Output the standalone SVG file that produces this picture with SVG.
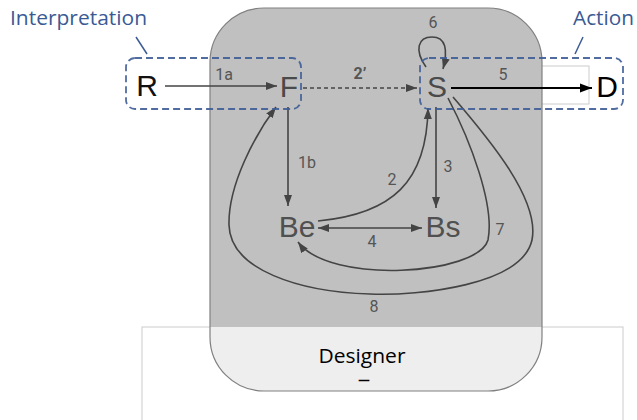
<svg xmlns="http://www.w3.org/2000/svg" width="637" height="420" viewBox="0 0 637 420">
<defs>
<style>
.node{font-family:"Liberation Sans",Arial,sans-serif;font-size:30px;text-anchor:middle}
.lbl{font-family:Roboto,"Liberation Sans",sans-serif;font-size:16px;fill:#555;text-anchor:middle}
.cap{font-family:"Open Sans","Liberation Sans",sans-serif;font-size:20px}
.con{fill:none;stroke:#444;stroke-width:1.6}
.dbox{fill:none;stroke:#3d5c96;stroke-width:1.8;stroke-dasharray:7,4;opacity:0.9}
</style>
<marker id="ah" markerUnits="userSpaceOnUse" markerWidth="12" markerHeight="10" refX="11" refY="4" orient="auto-start-reverse" viewBox="0 0 12 8">
<path d="M0,0 L11,4 L0,8 Z" fill="#444"/>
</marker>
<marker id="ahk" markerUnits="userSpaceOnUse" markerWidth="13" markerHeight="10" refX="12" refY="4.5" orient="auto" viewBox="0 0 13 9">
<path d="M0,0 L12,4.5 L0,9 Z" fill="#000"/>
</marker>
<clipPath id="clipBig"><rect x="210" y="8" width="332" height="383" rx="54" ry="54"/></clipPath>
</defs>
<rect width="637" height="420" fill="#fff"/>
<g id="background-frames">
<rect x="142" y="327" width="481" height="110" fill="none" stroke="#cccccc" stroke-width="1"/>
<rect x="500" y="66" width="89" height="38" fill="none" stroke="#cccccc" stroke-width="1"/>
</g>
<g id="designer">
<rect x="210" y="8" width="332" height="383" rx="54" ry="54" fill="#eeeeee"/>
<rect x="210" y="8" width="332" height="319" fill="#c0c0c0" clip-path="url(#clipBig)"/>
<rect x="210" y="8" width="332" height="383" rx="54" ry="54" fill="none" stroke="#808080" stroke-width="1.2"/>
<text x="362" y="363" class="cap" text-anchor="middle" fill="#000" textLength="87" lengthAdjust="spacingAndGlyphs">Designer</text>
<text x="358" y="385" font-family="'Liberation Sans',sans-serif" font-size="14" font-weight="bold" fill="#000" textLength="12" lengthAdjust="spacingAndGlyphs">–</text>
</g>
<g id="connectors">
<line x1="165" y1="86" x2="277" y2="86" class="con" marker-end="url(#ah)"/>
<text x="224" y="80" class="lbl">1a</text>
<line x1="303" y1="88" x2="417" y2="88" class="con" stroke-dasharray="4,3" marker-end="url(#ah)"/>
<text x="360" y="79" class="lbl" font-weight="bold" fill="#444">2’</text>
<line x1="451" y1="88" x2="592" y2="88" fill="none" stroke="#000" stroke-width="2" marker-end="url(#ahk)"/>
<text x="503" y="80" class="lbl">5</text>
<path d="M426,67 C414,50 418,37 432,37 C446,37 448,50 443,69" class="con" marker-end="url(#ah)"/>
<text x="433" y="28" class="lbl">6</text>
<line x1="288" y1="107" x2="288" y2="206" class="con" marker-end="url(#ah)"/>
<text x="307" y="168" class="lbl">1b</text>
<line x1="436" y1="107" x2="436" y2="208" class="con" marker-end="url(#ah)"/>
<text x="448" y="172" class="lbl">3</text>
<line x1="318" y1="228" x2="422" y2="228" class="con" marker-start="url(#ah)" marker-end="url(#ah)"/>
<text x="372" y="247" class="lbl">4</text>
<path d="M318,221 C392,214 427,182 428,108" class="con" marker-end="url(#ah)"/>
<text x="392" y="185" class="lbl">2</text>
<path d="M448,98 C470,140 495,205 488,240 C478,275 330,285 298,242" class="con" marker-end="url(#ah)"/>
<text x="500" y="235" class="lbl">7</text>
<path d="M453,97 C490,140 540,200 532,240 C522,285 420,296 370,294 C300,292 230,270 229,225 C228,185 255,135 276,107" class="con" marker-end="url(#ah)"/>
<text x="374" y="312" class="lbl">8</text>
</g>
<g id="node-R"><text x="147" y="96" class="node" fill="#111">R</text></g>
<g id="node-F"><text x="289" y="97" class="node" fill="#4a4a4a">F</text></g>
<g id="node-S"><text x="437" y="97" class="node" fill="#4a4a4a">S</text></g>
<g id="node-D"><text x="607" y="97" class="node" fill="#000">D</text></g>
<g id="node-Be"><text x="297" y="237" class="node" fill="#505050">Be</text></g>
<g id="node-Bs"><text x="443" y="237" class="node" fill="#505050">Bs</text></g>
<g id="interpretation">
<rect x="126" y="58" width="175" height="51" rx="9" class="dbox"/>
<line x1="136" y1="37" x2="147" y2="54" stroke="#3d5c96" stroke-width="1.5"/>
<text x="10" y="25" class="cap" fill="#3a5a94" textLength="137" lengthAdjust="spacingAndGlyphs">Interpretation</text>
</g>
<g id="action">
<rect x="420" y="58" width="203" height="51" rx="9" class="dbox"/>
<line x1="583" y1="37" x2="575" y2="54" stroke="#3d5c96" stroke-width="1.5"/>
<text x="573" y="25" class="cap" fill="#3a5a94" textLength="61" lengthAdjust="spacingAndGlyphs">Action</text>
</g>
</svg>
